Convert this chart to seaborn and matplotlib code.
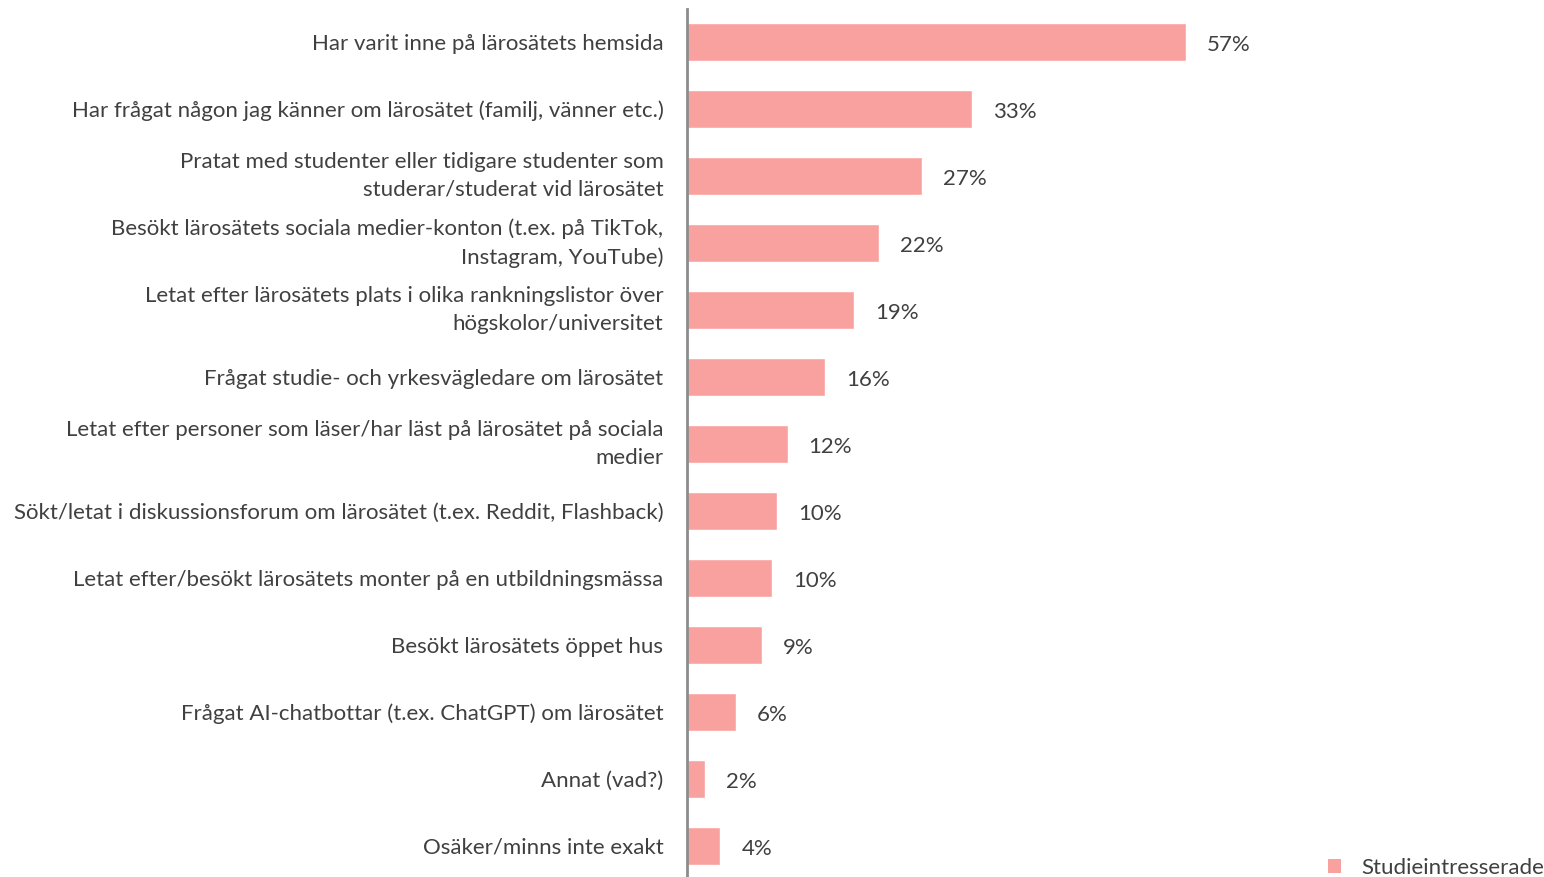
import matplotlib
matplotlib.use("Agg")
import matplotlib.pyplot as plt
import seaborn as sns
import pandas as pd
from matplotlib.patches import Patch

categories = [
    "Har varit inne på lärosätets hemsida",
    "Har frågat någon jag känner om lärosätet (familj, vänner etc.)",
    "Pratat med studenter eller tidigare studenter som\nstuderar/studerat vid lärosätet",
    "Besökt lärosätets sociala medier-konton (t.ex. på TikTok,\nInstagram, YouTube)",
    "Letat efter lärosätets plats i olika rankningslistor över\nhögskolor/universitet",
    "Frågat studie- och yrkesvägledare om lärosätet",
    "Letat efter personer som läser/har läst på lärosätet på sociala\nmedier",
    "Sökt/letat i diskussionsforum om lärosätet (t.ex. Reddit, Flashback)",
    "Letat efter/besökt lärosätets monter på en utbildningsmässa",
    "Besökt lärosätets öppet hus",
    "Frågat AI-chatbottar (t.ex. ChatGPT) om lärosätet",
    "Annat (vad?)",
    "Osäker/minns inte exakt",
]
values = [57.0, 32.6, 26.9, 21.9, 19.1, 15.8, 11.5, 10.3, 9.7, 8.6, 5.6, 2.1, 3.8]
series_name = "Studieintresserade"

df = pd.DataFrame({"cat": categories, "val": values})

sns.set_theme(style="white")
plt.rcParams["font.family"] = ["Lato", "DejaVu Sans"]

bar_color = "#F9A19F"
text_color = "#404040"
fs = 16

fig = plt.figure(figsize=(15.44, 8.77), dpi=100)
ax = fig.add_axes([687 / 1544, -2.5 / 877, 857 / 1544, 871 / 877])

sns.barplot(data=df, x="val", y="cat", orient="h", color=bar_color,
            width=0.58, ax=ax, saturation=1)

ax.set_xlim(0, 857 / 8.754)
ax.set_ylim(len(categories) - 0.5, -0.5)
ax.set_xlabel("")
ax.set_ylabel("")
ax.set_xticks([])
ax.tick_params(axis="y", length=0, pad=17, labelsize=fs, labelcolor=text_color)
for lbl in ax.get_yticklabels():
    lbl.set_horizontalalignment("right")
    lbl.set_multialignment("right")
    lbl.set_linespacing(1.5)
    if "\n" in lbl.get_text():
        lbl.set_verticalalignment("center")

for s in ["top", "right", "bottom"]:
    ax.spines[s].set_visible(False)
ax.spines["left"].set_color("#8C8C8C")
ax.spines["left"].set_linewidth(2)

for i, v in enumerate(values):
    ax.text(v + 2.4, i + 0.04, f"{round(v)}%", va="center", ha="left",
            fontsize=fs, color=text_color)

handles = [Patch(facecolor=bar_color, edgecolor="none", label=series_name)]
fig.legend(handles=handles, loc="lower right", bbox_to_anchor=(1.003, -0.006),
           frameon=False, fontsize=fs, handlelength=0.6, handleheight=0.6,
           handletextpad=0.9, borderaxespad=0.1, borderpad=0.1,
           labelcolor=text_color)

fig.savefig("out.png", dpi=100)
